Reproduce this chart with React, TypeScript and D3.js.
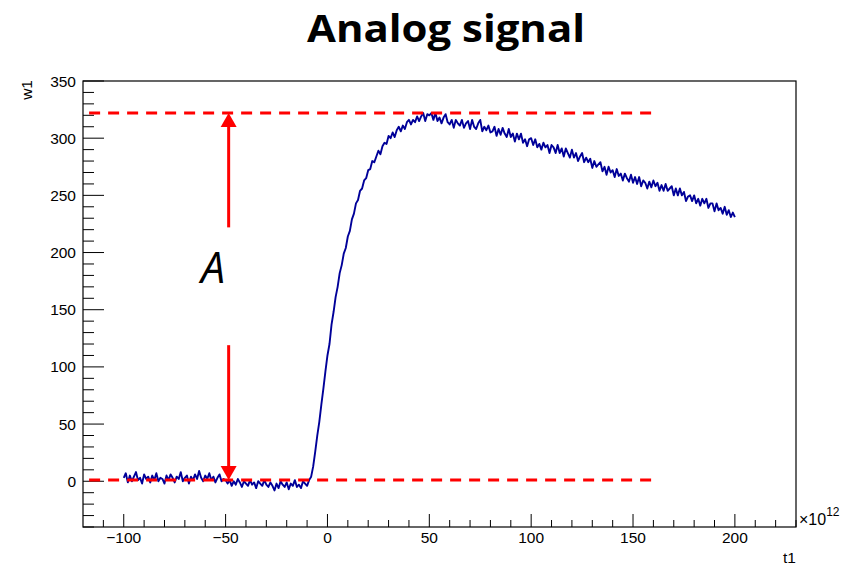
import React from 'react'
import * as d3 from 'd3'

// signal samples, one per unit of t1 (x10^12), from -100 to 200
const tStart = -100
const baseline = [
  3, 7, -1, 5, 0, 4, 8, 1, 3, -2,
  6, 2, 4, -1, 5, 1, 7, 0, 3, 2,
  -2, 5, 1, 6, 3, -1, 4, 2, 8, 0,
  3, 5, -2, 4, 1, 6, 2, 9, 3, 0,
  5, 2, 7, 1, 4, -1, 3, 6, 0, 2,
  1,
  -2, 1, -4, 0, -3, 2, -1, -5, 0, -2,
  -4, 1, -3, -1, -6, 0, -2, -4, 1, -3,
  -5, -1, -4, -8, -2, -6, 0, -3, -5, -1,
  -7, -2, -4, 1, -5, -3, -6, 0, -2, -4,
  1,
]
const rise = [
  4, 13, 26, 40, 52, 67, 81, 96,
  110, 120, 137, 148, 161, 170, 182, 189, 199, 204,
  214, 219, 229, 234, 243, 246, 254, 256, 263, 265,
  272, 273, 280, 279, 284, 289, 286, 293, 296, 295,
  302, 300, 305, 301, 307, 310, 306, 311, 308, 314,
  316, 312, 316, 314, 319, 315, 319, 322, 315, 321,
  320,
]
const decay = [
  322, 316, 322, 315, 318, 313, 318, 321, 314, 312,
  316, 309, 316, 313, 311, 316, 309, 313, 315, 308,
  316, 310, 308, 313, 316, 306, 310, 307, 311, 305,
  306, 310, 302, 308, 303, 309, 304, 301, 308, 301,
  304, 297, 304, 299, 304, 296, 299, 293, 299, 300,
  294, 299, 292, 295, 290, 296, 292, 294, 287, 294,
  292, 287, 294, 287, 291, 284, 291, 287, 283, 290,
  283, 287, 280, 284, 287, 279, 283, 279, 282, 274,
  280, 275, 277, 279, 271, 275, 268, 275, 270, 272,
  266, 273, 267, 269, 263, 269, 265, 262, 268, 261,
  266, 260, 266, 258, 263, 261, 256, 262, 257, 263,
  258, 261, 254, 259, 254, 260, 254, 256, 258, 250,
  256, 250, 256, 250, 253, 245, 249, 250, 245, 250,
  243, 247, 241, 247, 243, 247, 239, 243, 243, 236,
  243, 237, 239, 234, 240, 233, 237, 231, 235, 231,
]
const signal = [...baseline, ...rise, ...decay]

const xDomain = [-120, 230]
const yDomain = [-40, 350]
const xMajor = [-100, -50, 0, 50, 100, 150, 200]
const yMajor = [0, 50, 100, 150, 200, 250, 300, 350]

// amplitude annotation
const levelTop = 322
const levelBottom = 1
const levelRange = [-117, 160]
const arrowT = -48.5
const arrowGap = [119, 222]

const W = 846
const H = 577
const m = { left: 83, right: 796, top: 81, bottom: 527 }
const font = '"Liberation Sans", Arial, sans-serif'

export default function App() {
  const x = d3.scaleLinear().domain(xDomain).range([m.left, m.right])
  const y = d3.scaleLinear().domain(yDomain).range([m.bottom, m.top])

  const pts: [number, number][] = signal.map((v, i) => [tStart + i, v])
  const path = d3.line<[number, number]>()
    .x((d) => x(d[0]))
    .y((d) => y(d[1]))(pts) || ''

  const xMinor = d3.range(-110, 231, 10).filter((v) => v % 50 !== 0)
  const yMinor = d3.range(-40, 351, 10).filter((v) => v % 50 !== 0)

  const ax = x(arrowT)
  const yTop = y(levelTop)
  const yBot = y(levelBottom)
  const head = (tip: number, dir: number) =>
    `M${ax},${tip} L${ax - 8},${tip + dir * 14} L${ax + 8},${tip + dir * 14} Z`

  return (
    <svg width={W} height={H} style={{ position: 'absolute', left: 0, top: 0, background: '#fff' }}>
      <text x={446} y={42} textAnchor="middle" fontFamily='"Open Sans", sans-serif'
        fontWeight={700} fontSize={37} textLength={278} lengthAdjust="spacingAndGlyphs">Analog signal</text>

      {/* frame */}
      <rect x={m.left} y={m.top} width={m.right - m.left} height={m.bottom - m.top}
        fill="none" stroke="#000" strokeWidth={1.2} />

      {/* x ticks */}
      {xMajor.map((v) => (
        <g key={'xm' + v}>
          <line x1={x(v)} x2={x(v)} y1={m.bottom} y2={m.bottom - 13} stroke="#000" />
          <text x={x(v)} y={543} textAnchor="middle" fontFamily={font} fontSize={15.5}>
            {v < 0 ? '\u2212' + Math.abs(v) : v}
          </text>
        </g>
      ))}
      {xMinor.map((v) => (
        <line key={'xn' + v} x1={x(v)} x2={x(v)} y1={m.bottom} y2={m.bottom - 7} stroke="#000" />
      ))}

      {/* y ticks */}
      {yMajor.map((v) => (
        <g key={'ym' + v}>
          <line x1={m.left} x2={m.left + 21} y1={y(v)} y2={y(v)} stroke="#000" />
          <text x={76} y={y(v) + 5.5} textAnchor="end" fontFamily={font} fontSize={15.5}>{v}</text>
        </g>
      ))}
      {yMinor.map((v) => (
        <line key={'yn' + v} x1={m.left} x2={m.left + 11} y1={y(v)} y2={y(v)} stroke="#000" />
      ))}

      <text transform="translate(32,80) rotate(-90)" textAnchor="end" fontFamily={font} fontSize={15.5}>w1</text>
      <text x={796} y={563} textAnchor="end" fontFamily={font} fontSize={15.5}>t1</text>
      <text x={799} y={525} fontFamily={font} fontSize={16}>
        ×10<tspan fontSize={12} dy={-9}>12</tspan>
      </text>

      {/* signal */}
      <path d={path} fill="none" stroke="#000099" strokeWidth={1.9} strokeLinejoin="round" />

      {/* level lines */}
      {[levelTop, levelBottom].map((lv) => (
        <line key={'lv' + lv} x1={x(levelRange[0])} x2={x(levelRange[1])} y1={y(lv)} y2={y(lv)}
          stroke="#ff0000" strokeWidth={3} strokeDasharray="11 8" />
      ))}

      {/* amplitude arrow */}
      <line x1={ax} x2={ax} y1={yTop + 12} y2={y(arrowGap[1])} stroke="#ff0000" strokeWidth={3} />
      <line x1={ax} x2={ax} y1={y(arrowGap[0])} y2={yBot - 12} stroke="#ff0000" strokeWidth={3} />
      <path d={head(yTop, 1)} fill="#ff0000" />
      <path d={head(yBot, -1)} fill="#ff0000" />
      <text x={213} y={283} textAnchor="middle" fontFamily='"Open Sans", sans-serif'
        fontStyle="italic" fontSize={43}>A</text>
    </svg>
  )
}
